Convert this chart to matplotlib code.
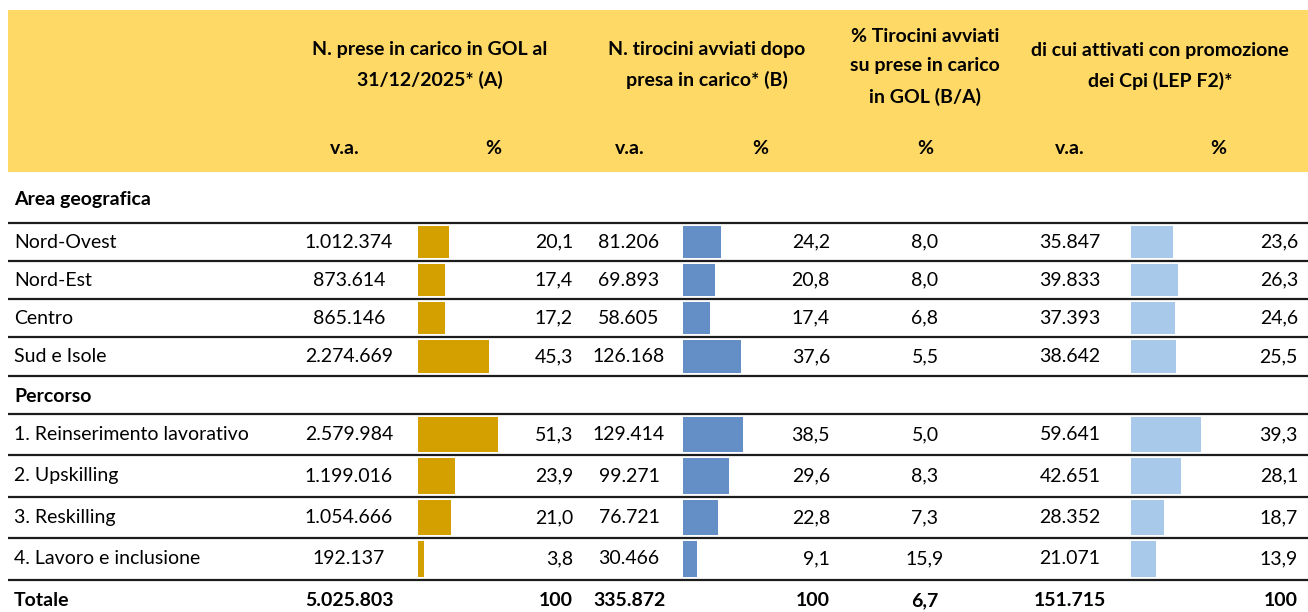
import matplotlib.pyplot as plt
from matplotlib.patches import Rectangle

# --- data ---
area_labels = ['Nord-Ovest', 'Nord-Est', 'Centro', 'Sud e Isole']
percorso_labels = ['1. Reinserimento lavorativo', '2. Upskilling', '3. Reskilling',
                   '4. Lavoro e inclusione']

prese_va = [1012374, 873614, 865146, 2274669, 2579984, 1199016, 1054666, 192137]
prese_pct = [20.1, 17.4, 17.2, 45.3, 51.3, 23.9, 21.0, 3.8]
tirocini_va = [81206, 69893, 58605, 126168, 129414, 99271, 76721, 30466]
tirocini_pct = [24.2, 20.8, 17.4, 37.6, 38.5, 29.6, 22.8, 9.1]
rapporto_pct = [8.0, 8.0, 6.8, 5.5, 5.0, 8.3, 7.3, 15.9]
cpi_va = [35847, 39833, 37393, 38642, 59641, 42651, 28352, 21071]
cpi_pct = [23.6, 26.3, 24.6, 25.5, 39.3, 28.1, 18.7, 13.9]

totale = [5025803, 100, 335872, 100, 6.7, 151715, 100]

headers = ['N. prese in carico in GOL al\n31/12/2025* (A)',
           'N. tirocini avviati dopo\npresa in carico* (B)',
           '% Tirocini avviati\nsu prese in carico\nin GOL (B/A)',
           'di cui attivati con promozione\ndei Cpi (LEP F2)*']
subheaders = ['v.a.', '%', 'v.a.', '%', '%', 'v.a.', '%']

# --- style ---
HEADER_BG = '#FFD966'
GOLD = '#D4A000'
BLUE = '#638EC6'
LIGHT_BLUE = '#A9C9EB'
LINE = '#1c1c1c'
FONT = 'Lato'
FS = 14
FS_HEAD = 14

W, H = 1308, 612


def fmt_int(v):
    return f'{v:,}'.replace(',', '.')


def fmt_dec(v):
    if float(v).is_integer() and v >= 100:
        return str(int(v))
    return f'{v:.1f}'.replace('.', ',')


fig = plt.figure(figsize=(W / 100, H / 100), dpi=100)
ax = fig.add_axes([0, 0, 1, 1])
ax.set_xlim(0, W)
ax.set_ylim(H, 0)
ax.axis('off')

# header band
ax.add_patch(Rectangle((8, 10), W - 8, 162, color=HEADER_BG, lw=0))

header_x = [430, 707, 925, 1160]
header_y = [65, 65, 67, 66]
for x, y, t in zip(header_x, header_y, headers):
    ax.text(x, y, t, ha='center', va='center', fontsize=FS_HEAD, fontweight='bold',
            family=FONT, linespacing=1.9)

sub_x = [345, 493, 630, 760, 925, 1070, 1218]
for x, t in zip(sub_x, subheaders):
    ax.text(x, 148, t, ha='center', va='center', fontsize=FS_HEAD, fontweight='bold', family=FONT)

# row geometry (pixel lines)
area_lines = [223, 261, 299, 337, 376]
perc_lines = [414, 455, 497, 538, 580]
row_top = area_lines[:-1] + perc_lines[:-1]
row_bot = area_lines[1:] + perc_lines[1:]
row_y = [(a + b) / 2 for a, b in zip(row_top, row_bot)]
row_h = [b - a for a, b in zip(row_top, row_bot)]

for y in area_lines + perc_lines:
    ax.plot([8, W], [y, y], color=LINE, lw=1.6, solid_capstyle='butt')

# group labels
ax.text(14, 199, 'Area geografica', ha='left', va='center', fontsize=FS,
        fontweight='bold', family=FONT)
ax.text(14, 396, 'Percorso', ha='left', va='center', fontsize=FS,
        fontweight='bold', family=FONT)

labels = area_labels + percorso_labels
for i, y in enumerate(row_y):
    ax.text(14, y, labels[i], ha='left', va='center', fontsize=FS, family=FONT)
    ax.text(349, y, fmt_int(prese_va[i]), ha='center', va='center', fontsize=FS, family=FONT)
    ax.text(573, y, fmt_dec(prese_pct[i]), ha='right', va='center', fontsize=FS, family=FONT)
    ax.text(629, y, fmt_int(tirocini_va[i]), ha='center', va='center', fontsize=FS, family=FONT)
    ax.text(830, y, fmt_dec(tirocini_pct[i]), ha='right', va='center', fontsize=FS, family=FONT)
    ax.text(925, y, fmt_dec(rapporto_pct[i]), ha='center', va='center', fontsize=FS, family=FONT)
    ax.text(1070, y, fmt_int(cpi_va[i]), ha='center', va='center', fontsize=FS, family=FONT)
    ax.text(1298, y, fmt_dec(cpi_pct[i]), ha='right', va='center', fontsize=FS, family=FONT)

# totals row
ty = 601
ax.text(14, ty, 'Totale', ha='left', va='center', fontsize=FS, fontweight='bold', family=FONT)
tot_pos = [(349, 'center'), (573, 'right'), (629, 'center'), (830, 'right'),
           (925, 'center'), (1070, 'center'), (1298, 'right')]
for (x, ha), v in zip(tot_pos, totale):
    s = fmt_int(v) if isinstance(v, int) and v > 1000 else fmt_dec(v)
    ax.text(x, ty, s, ha=ha, va='center', fontsize=FS, fontweight='bold', family=FONT)


# in-cell data bars, each on its own axes scaled in percent
def data_bars(x0, px_per_pct, values, color):
    span = 60
    bax = fig.add_axes([x0 / W, 0, span * px_per_pct / W, 1])
    bax.set_xlim(0, span)
    bax.set_ylim(H, 0)
    bax.axis('off')
    bax.patch.set_alpha(0)
    bax.barh(row_y, values, height=[h - 6 for h in row_h], color=color, lw=0)


data_bars(418, 1.56, prese_pct, GOLD)
data_bars(683, 1.55, tirocini_pct, BLUE)
data_bars(1131, 1.78, cpi_pct, LIGHT_BLUE)

fig.savefig('out.png', dpi=100)
